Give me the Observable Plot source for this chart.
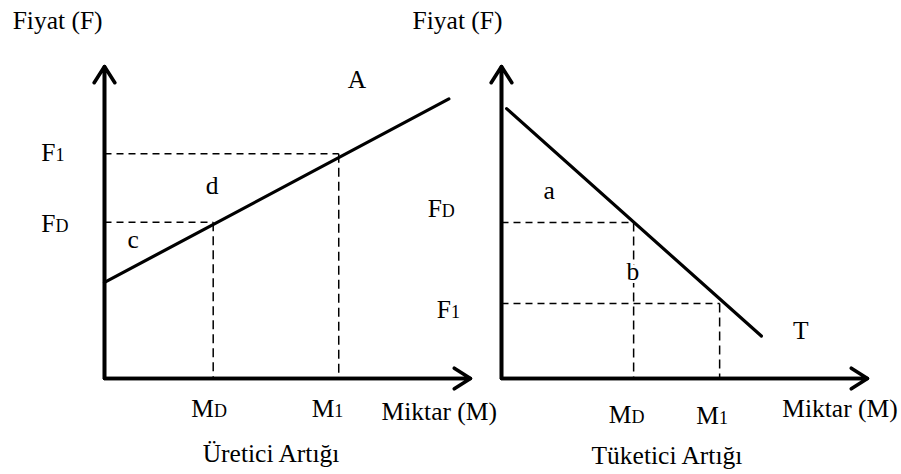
<!DOCTYPE html>
<html>
<head>
<meta charset="utf-8">
<script src="https://cdn.jsdelivr.net/npm/d3@7"></script>
<script src="https://cdn.jsdelivr.net/npm/@observablehq/plot@0.6"></script>
<style>
  html, body { margin: 0; padding: 0; background: #fff; }
  svg { display: block; }
</style>
</head>
<body>
<script>
// ---- data (diagram units: quantity 0..10, price 0..10) ----
const panels = ["Üretici Artığı", "Tüketici Artığı"];
const axisMax = 10;

// supply curve A (producer surplus panel)
const supplyQ = [0, 9.41];
const supplyP = [3.08, 8.96];
// demand curve T (consumer surplus panel)
const demandQ = [0.14, 7.10];
const demandP = [8.65, 1.36];

// reference points: [D, 1]
const producerQ = [2.97, 6.40]; // MD, M1
const producerP = [5.01, 7.20]; // FD, F1
const consumerQ = [3.61, 5.96]; // MD, M1
const consumerP = [5.00, 2.40]; // FD, F1

// tick-style labels: main letter + subscript
const tickMain = ["F", "F", "M", "M", "F", "F", "M", "M"];
const tickSub  = ["1", "D", "D", "1", "D", "1", "D", "1"];
const tickPanel = [0, 0, 0, 0, 1, 1, 1, 1];
const tickX = [-1.34, -1.34, 2.99, 6.28, -1.63, -1.38, 3.55, 5.94];
const tickY = [7.24, 4.97, -0.97, -0.97, 5.44, 2.20, -1.15, -1.21];

// axis titles
const axisText  = ["Fiyat (F)", "Fiyat (F)", "Miktar (M)", "Miktar (M)"];
const axisPanel = [0, 1, 0, 1];
const axisX = [-2.51, -2.43, 7.57, 7.67];
const axisY = [11.47, 11.47, -1.08, -0.96];

// area / curve letters
const areaText  = ["A", "d", "c", "a", "b", "T"];
const areaPanel = [0, 0, 0, 1, 1, 1];
const areaX = [6.90, 2.94, 0.78, 1.30, 3.59, 8.18];
const areaY = [9.58, 6.18, 4.44, 6.00, 3.41, 1.54];

// panel captions
const captionX = [4.55, 4.52];
const captionY = [-2.43, -2.48];

// ---- derived tables ----
const axesL = panels.flatMap(panel => [
  {panel, q: 0, p: axisMax}, {panel, q: 0, p: 0}, {panel, q: axisMax, p: 0}
]);
const axisArrows = panels.flatMap(panel => [
  {panel, x1: 0, y1: 0, x2: 0, y2: axisMax},
  {panel, x1: 0, y1: 0, x2: axisMax, y2: 0}
]);
const curves = [
  ...supplyQ.map((q, i) => ({panel: panels[0], q, p: supplyP[i]})),
  ...demandQ.map((q, i) => ({panel: panels[1], q, p: demandP[i]}))
];
const refPts = [
  ...producerQ.map((q, i) => ({panel: panels[0], q, p: producerP[i]})),
  ...consumerQ.map((q, i) => ({panel: panels[1], q, p: consumerP[i]}))
];
const ticks = tickMain.map((m, i) => ({panel: panels[tickPanel[i]], main: m, sub: tickSub[i], x: tickX[i], y: tickY[i]}));
const axisLabels = axisText.map((t, i) => ({panel: panels[axisPanel[i]], t, x: axisX[i], y: axisY[i]}));
const areaLabels = areaText.map((t, i) => ({panel: panels[areaPanel[i]], t, x: areaX[i], y: areaY[i]}));
const captions = panels.map((t, i) => ({panel: t, t, x: captionX[i], y: captionY[i]}));

const FONT = "'Liberation Serif', 'Times New Roman', serif";
const BIG = 25.5, SMALL = 18;

const chart = Plot.plot({
  width: 901,
  height: 474,
  marginLeft: 104,
  marginRight: 34,
  marginTop: 66,
  marginBottom: 96,
  style: {fontFamily: FONT, background: "white", overflow: "visible"},
  fx: {domain: panels, axis: null, paddingInner: 31 / 397, paddingOuter: 0},
  x: {domain: [0, axisMax], axis: null},
  y: {domain: [0, axisMax], axis: null},
  marks: [
    // dashed guides
    Plot.link(refPts, {fx: "panel", x1: 0, y1: "p", x2: "q", y2: "p", stroke: "black", strokeWidth: 1.5, strokeDasharray: "7,5"}),
    Plot.link(refPts, {fx: "panel", x1: "q", y1: "p", x2: "q", y2: 0, stroke: "black", strokeWidth: 1.5, strokeDasharray: "9,5"}),
    // curves
    Plot.line(curves, {fx: "panel", x: "q", y: "p", z: "panel", stroke: "black", strokeWidth: 3.2}),
    // axes
    Plot.line(axesL, {fx: "panel", x: "q", y: "p", z: "panel", stroke: "black", strokeWidth: 3.6, strokeLinejoin: "miter"}),
    Plot.arrow(axisArrows, {fx: "panel", x1: "x1", y1: "y1", x2: "x2", y2: "y2", stroke: "black", strokeWidth: 3.6, headLength: 8, headAngle: 65, strokeLinejoin: "miter"}),
    // labels
    Plot.text(axisLabels, {fx: "panel", x: "x", y: "y", text: "t", textAnchor: "start", fontSize: BIG, fill: "black"}),
    Plot.text(areaLabels, {fx: "panel", x: "x", y: "y", text: "t", fontSize: BIG, fill: "black", stroke: "white", strokeWidth: 6}),
    Plot.text(ticks, {fx: "panel", x: "x", y: "y", text: "main", textAnchor: "end", fontSize: BIG, fill: "black"}),
    Plot.text(ticks, {fx: "panel", x: "x", y: "y", text: "sub", textAnchor: "start", fontSize: SMALL, dy: 0.32 * (BIG - SMALL), fill: "black"}),
    Plot.text(captions, {fx: "panel", x: "x", y: "y", text: "t", fontSize: BIG, fill: "black"})
  ]
});
document.body.appendChild(chart);
</script>
</body>
</html>
